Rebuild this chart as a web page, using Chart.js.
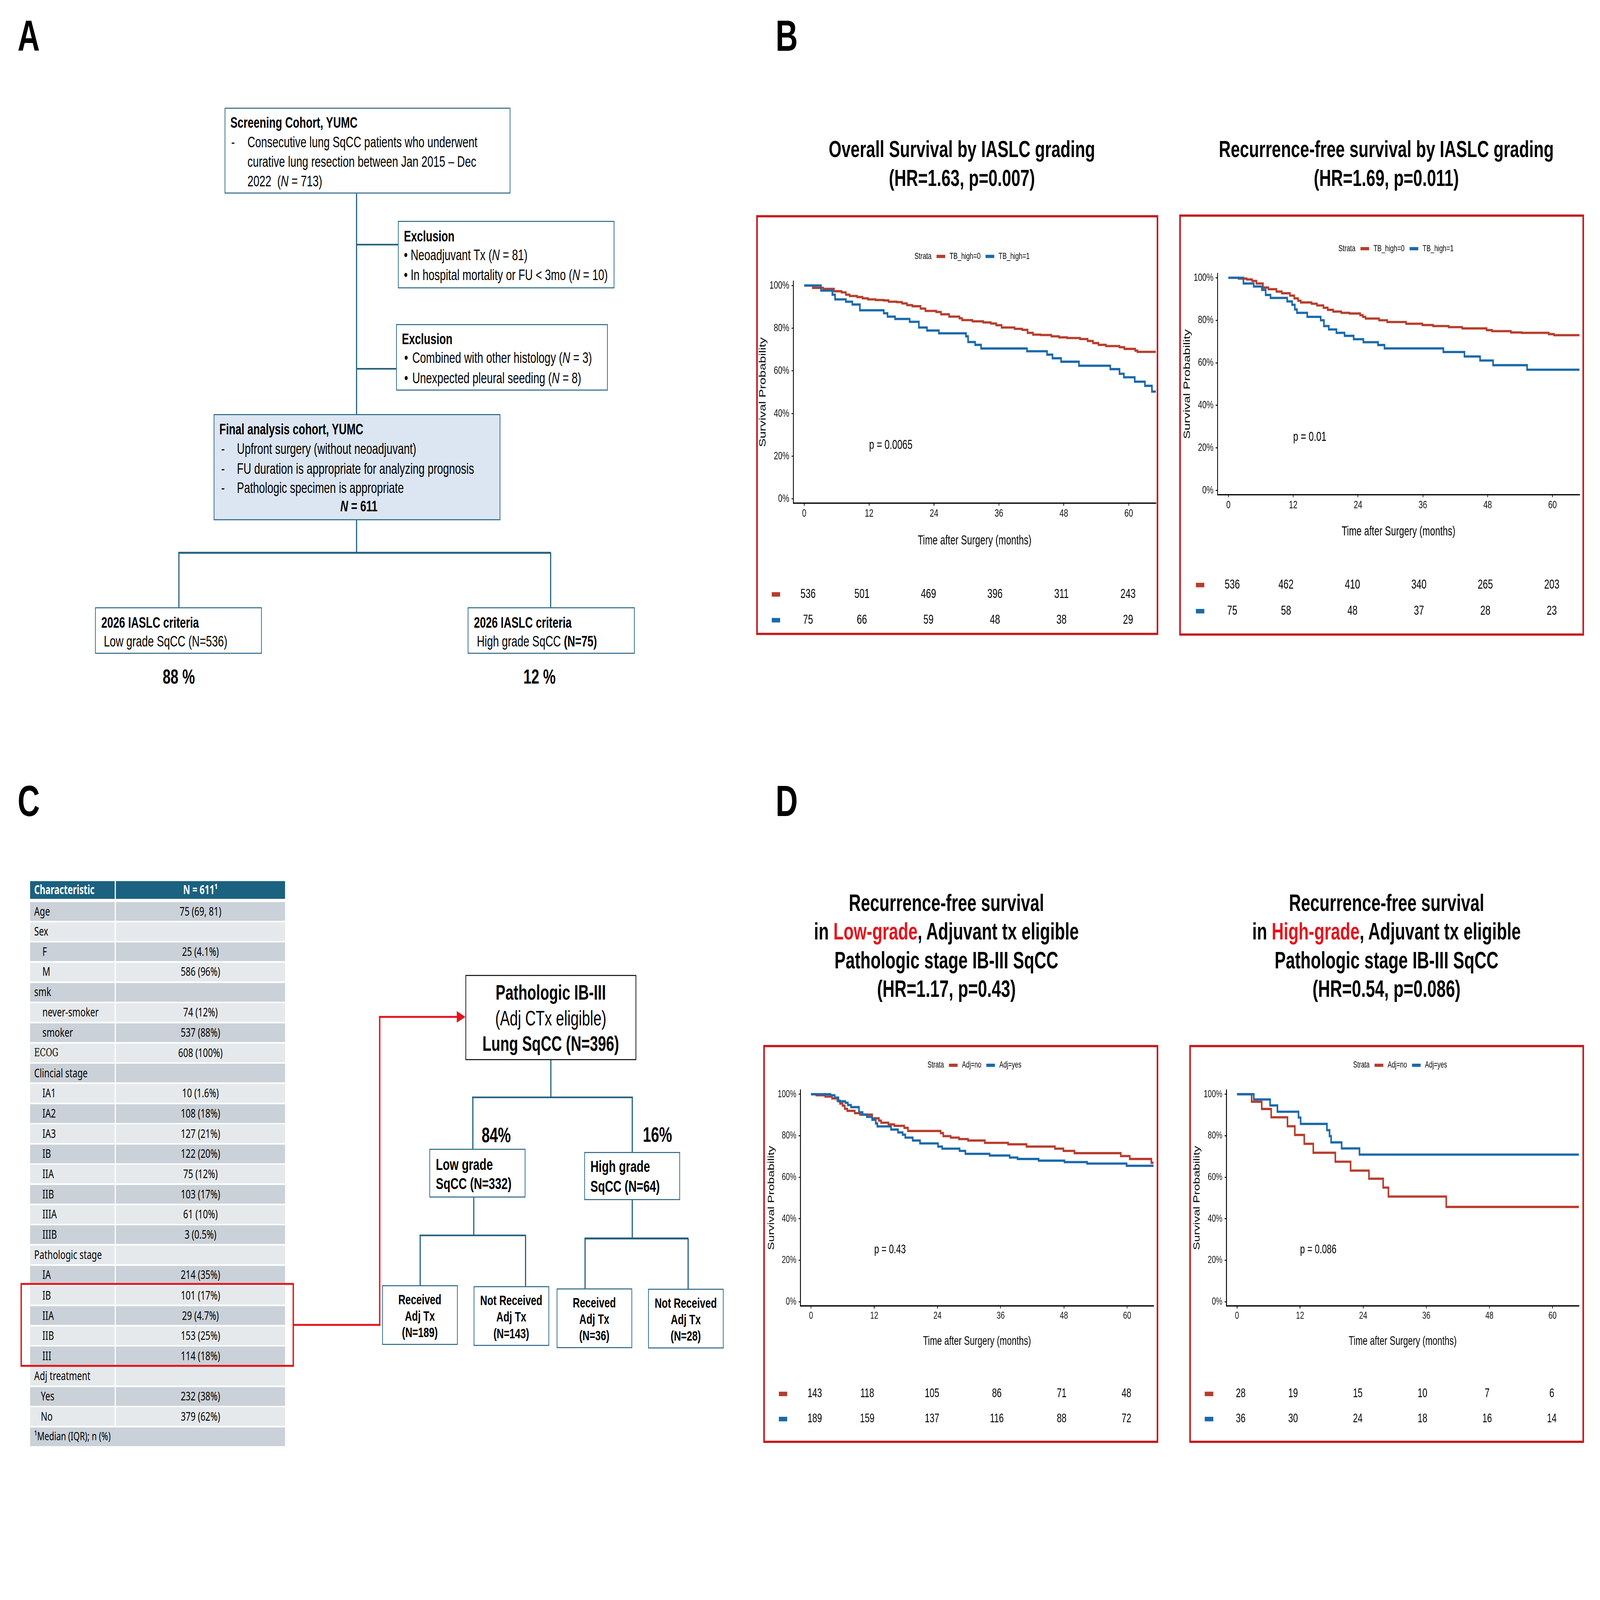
<!DOCTYPE html>
<html>
<head>
<meta charset="utf-8">
<title>IASLC grading in lung SqCC</title>
<script src="https://cdn.jsdelivr.net/npm/chart.js@4.4.1/dist/chart.umd.min.js"></script>
<style>
  html, body { margin: 0; padding: 0; background: #fff; overflow: hidden; }
  #page { position: relative; width: 7016px; height: 4961px; overflow: hidden; background: #fff;
          transform-origin: 0 0;
          font-family: Arial, "Liberation Sans", sans-serif; color: #000; }
  #page div { position: absolute; box-sizing: border-box; white-space: nowrap; }
  #page canvas { position: absolute; }
</style>
</head>
<body>
<div id="page"></div>
<script>
// ---- data ----
const timeTicks = [0, 12, 24, 36, 48, 60];
const survTicks = [0, 20, 40, 60, 80, 100];

// B left: overall survival
const osLowT = [0, 1.6, 3.5, 5.5, 6.9, 7.7, 8.4, 9.8, 10.8, 11.8, 13.2, 14.7, 15.6, 17.1, 18.1, 19.0, 20.0, 21.5, 22.4, 24.4, 25.3, 26.8, 28.7, 29.2, 31.1, 33.1, 34.5, 35.5, 36.5, 38.9, 40.3, 41.3, 42.3, 43.7, 45.7, 47.1, 48.6, 51.0, 52.4, 53.4, 54.4, 55.8, 58.3, 59.2, 61.2, 61.6, 65];
const osLowS = [100, 98.9, 98.4, 97.3, 96.8, 95.7, 95.1, 94.6, 94.0, 93.5, 93.2, 93.0, 92.4, 92.2, 91.6, 90.8, 90.3, 89.2, 88.1, 87.6, 86.5, 85.4, 84.6, 83.8, 83.2, 82.7, 82.2, 81.4, 80.3, 79.7, 79.2, 77.8, 77.0, 76.8, 76.2, 75.7, 75.4, 74.9, 74.0, 73.0, 72.2, 71.6, 71.1, 70.3, 69.5, 68.9, 68.6];
const osHighT = [0, 3.1, 5.2, 5.7, 7.7, 8.9, 10.3, 14.7, 15.4, 16.8, 19.5, 21.2, 22.7, 24.9, 29.9, 30.3, 31.6, 32.7, 41.2, 44.9, 45.9, 47.5, 50.8, 56.6, 58.3, 59.1, 61.1, 63.0, 64.3, 65];
const osHighS = [100, 97.6, 95.7, 93.5, 92.4, 91.1, 88.4, 87.0, 85.4, 84.3, 83.0, 80.3, 78.9, 77.6, 76.2, 73.5, 72.2, 70.5, 69.2, 67.6, 65.9, 64.3, 62.4, 60.8, 58.6, 57.0, 54.9, 53.0, 50.3, 50.3];
const osRiskLow = [536, 501, 469, 396, 311, 243];
const osRiskHigh = [75, 66, 59, 48, 38, 29];

// B right: recurrence-free survival
const rfsLowT = [0, 1.9, 3.4, 4.4, 5.2, 6.4, 7.4, 8.9, 9.9, 11.4, 12.2, 12.9, 13.4, 15.4, 16.4, 17.6, 18.4, 19.4, 20.9, 22.4, 24.4, 24.9, 25.4, 27.9, 29.4, 32.9, 35.9, 37.9, 40.8, 43.3, 47.8, 48.8, 52.3, 54.3, 59.3, 60.3, 65];
const rfsLowS = [100, 99.6, 99.2, 98.5, 97.3, 95.4, 94.6, 93.5, 92.7, 91.6, 90.3, 89.2, 88.4, 87.8, 87.0, 85.9, 84.9, 84.1, 83.5, 83.2, 82.4, 81.6, 80.8, 80.0, 79.2, 78.4, 77.8, 77.3, 76.8, 76.2, 75.4, 74.9, 74.3, 74.1, 73.5, 73.0, 72.7];
const rfsHighT = [0, 2.8, 4.7, 6.2, 6.9, 7.8, 10.9, 11.8, 12.3, 12.7, 14.6, 17.1, 17.7, 18.6, 20.0, 21.5, 23.2, 25.0, 27.7, 28.9, 39.8, 43.7, 46.6, 49.0, 55.3, 65];
const rfsHighS = [100, 97.3, 95.9, 94.3, 91.9, 90.5, 88.9, 87.3, 85.1, 83.5, 81.6, 80.0, 77.3, 75.7, 74.1, 72.7, 71.1, 69.7, 68.4, 66.8, 65.1, 63.0, 61.1, 58.9, 56.8, 56.8];
const rfsRiskLow = [536, 462, 410, 340, 265, 203];
const rfsRiskHigh = [75, 58, 48, 37, 28, 23];

// D left: low grade, adjuvant no / yes
const lowNoT = [0, 1.0, 2.7, 4.0, 5.0, 5.5, 6.0, 6.4, 6.9, 8.3, 9.3, 11.6, 12.9, 13.3, 14.7, 15.8, 17.7, 18.4, 24.6, 25.1, 26.5, 28.1, 29.8, 33.0, 37.4, 40.9, 46.3, 47.9, 50.0, 58.8, 60.5, 64.6, 65];
const lowNoS = [100, 99.5, 98.9, 98.0, 96.9, 95.5, 94.5, 93.0, 92.0, 90.9, 90.2, 88.4, 87.3, 86.3, 85.5, 84.8, 83.8, 82.3, 81.3, 79.8, 79.1, 78.4, 77.7, 76.6, 75.9, 74.8, 73.8, 72.7, 71.6, 70.2, 68.8, 67.0, 67.0];
const lowYesT = [0, 3.7, 4.5, 5.2, 6.5, 7.0, 7.6, 9.1, 9.8, 10.6, 11.6, 12.3, 12.6, 15.2, 16.5, 17.4, 17.9, 19.3, 20.7, 24.1, 24.9, 28.2, 29.3, 33.9, 37.7, 39.2, 43.2, 48.1, 52.4, 59.9, 65];
const lowYesS = [100, 99.5, 98.4, 96.6, 95.9, 94.8, 93.8, 91.3, 90.2, 89.1, 87.7, 85.9, 84.5, 83.0, 81.6, 80.5, 79.1, 77.7, 76.3, 74.8, 73.8, 72.7, 71.3, 70.5, 69.5, 68.8, 68.0, 67.3, 66.6, 65.5, 65.5];
const lowRiskNo = [143, 118, 105, 86, 71, 48];
const lowRiskYes = [189, 159, 137, 116, 88, 72];

// D right: high grade, adjuvant no / yes
const highNoT = [0, 2.8, 4.7, 6.5, 9.6, 11.0, 12.8, 14.5, 18.7, 21.6, 25.1, 27.8, 28.8, 39.8, 65];
const highNoS = [100, 96.4, 92.9, 88.9, 84.6, 80.4, 76.1, 71.8, 67.5, 63.2, 59.3, 55.0, 50.7, 45.7, 45.7];
const highYesT = [0, 3.2, 6.3, 7.7, 11.7, 12.1, 17.1, 17.6, 17.9, 19.9, 23.3, 65];
const highYesS = [100, 97.5, 94.6, 91.6, 88.8, 85.7, 82.7, 79.8, 76.8, 73.9, 70.9, 70.9];
const highRiskNo = [28, 19, 15, 10, 7, 6];
const highRiskYes = [36, 30, 24, 18, 16, 14];

// C: baseline table
const tblLabels = ['Age', 'Sex', 'F', 'M', 'smk', 'never-smoker', 'smoker', 'ECOG', 'Clincial stage',
  'IA1', 'IA2', 'IA3', 'IB', 'IIA', 'IIB', 'IIIA', 'IIIB', 'Pathologic stage',
  'IA', 'IB', 'IIA', 'IIB', 'III', 'Adj treatment', 'Yes', 'No'];
const tblValues = ['75 (69, 81)', '', '25 (4.1%)', '586 (96%)', '', '74 (12%)', '537 (88%)', '608 (100%)', '',
  '10 (1.6%)', '108 (18%)', '127 (21%)', '122 (20%)', '75 (12%)', '103 (17%)', '61 (10%)', '3 (0.5%)', '',
  '214 (35%)', '101 (17%)', '29 (4.7%)', '153 (25%)', '114 (18%)', '', '232 (38%)', '379 (62%)'];
const tblIndent = [0, 0, 1, 1, 0, 1, 1, 0, 0, 1, 1, 1, 1, 1, 1, 1, 1, 0, 1, 1, 1, 1, 1, 0, 2, 2];

// ---- helpers ----
const FONT = 'Arial, "Liberation Sans", sans-serif';
const TBL = '"Noto Sans", "Open Sans", sans-serif';
const FLOW = '#23607f';
const RED = '#e3141b';
const FRAME = '#c41a1f';
const KM_RED = '#b63d2c';
const KM_BLUE = '#1a69aa';
Chart.defaults.font.family = FONT;

const page = document.getElementById('page');

// map the 7016x4961 sheet onto whatever window we actually get
function fitPage() {
  const sx = window.innerWidth / 7016, sy = window.innerHeight / 4961;
  page.style.transform = (sx < 1 || sy < 1) ? `scale(${Math.min(sx, 1)}, ${Math.min(sy, 1)})` : 'none';
}
fitPage();
window.addEventListener('resize', fitPage);

function el(css, html) {
  const d = document.createElement('div');
  d.style.cssText = css;
  if (html) d.innerHTML = html;
  page.appendChild(d);
  return d;
}
function box(x, y, w, h, color, bw, fill) {
  el(`left:${x}px;top:${y}px;width:${w}px;height:${h}px;border:${bw}px solid ${color};background:${fill || 'transparent'}`);
}
function rect(x, y, w, h, fill) {
  el(`left:${x}px;top:${y}px;width:${w}px;height:${h}px;background:${fill}`);
}
function hline(x1, x2, y, w, c) { rect(x1, y - w / 2, x2 - x1, w, c || FLOW); }
function vline(x, y1, y2, w, c) { rect(x - w / 2, y1, w, y2 - y1, c || FLOW); }
function text(x, y, html, size, opt) {
  opt = opt || {};
  const lh = Math.round(size * 1.3);
  const tx = opt.align === 'center' ? 'translateX(-50%)' : opt.align === 'right' ? 'translateX(-100%)' : 'none';
  el(`left:${x}px;top:${y - lh / 2}px;line-height:${lh}px;font-size:${size}px;` +
     `font-weight:${opt.bold ? 'bold' : 'normal'};color:${opt.color || '#000'};transform:${tx};` +
     `font-family:${opt.font || 'inherit'}`, html);
}

// ---- panel letters ----
text(77, 112, 'A', 135, { bold: true });
text(3401, 112, 'B', 135, { bold: true });
text(77, 2484, 'C', 135, { bold: true });
text(3401, 2484, 'D', 135, { bold: true });

// ---- panel A: cohort flow ----
const FS = 47;
box(985, 334, 1253, 266, FLOW, 3);
text(1010, 379, '<b>Screening Cohort, YUMC</b>', FS);
text(1014, 440, '-', FS);
text(1085, 440, 'Consecutive lung SqCC patients who underwent', FS);
text(1085, 500, 'curative lung resection between Jan 2015 – Dec', FS);
text(1085, 561, '2022&nbsp; (<i>N</i> = 713)', FS);

box(1745, 685, 949, 209, FLOW, 3);
text(1771, 731, '<b>Exclusion</b>', FS);
text(1771, 790, '• Neoadjuvant Tx (<i>N</i> = 81)', FS);
text(1771, 852, '• In hospital mortality or FU &lt; 3mo (<i>N</i> = 10)', FS);

box(1737, 1005, 928, 206, FLOW, 3);
text(1762, 1050, '<b>Exclusion</b>', FS);
text(1773, 1108, '•', FS);
text(1808, 1108, 'Combined with other histology (<i>N</i> = 3)', FS);
text(1773, 1171, '•', FS);
text(1808, 1171, 'Unexpected pleural seeding (<i>N</i> = 8)', FS);

box(937, 1284, 1257, 329, FLOW, 3, '#dce6f2');
text(962, 1330, '<b>Final analysis cohort, YUMC</b>', FS);
[['Upfront surgery (without neoadjuvant)', 1390],
 ['FU duration is appropriate for analyzing prognosis', 1452],
 ['Pathologic specimen is appropriate', 1511]].forEach(([s, y]) => {
  text(970, y, '-', FS);
  text(1039, y, s, FS);
});
text(1574, 1569, '<b><i>N</i> = 611</b>', FS, { align: 'center' });

vline(1563, 600, 1284, 5);
hline(1563, 1745, 758, 5);
hline(1563, 1737, 1143, 5);
vline(1563, 1613, 1714, 5);
hline(782, 2416, 1714, 6);
vline(784, 1714, 1883, 5);
vline(2414, 1714, 1883, 5);

box(417, 1883, 731, 144, FLOW, 3);
text(444, 1929, '<b>2026 IASLC criteria</b>', FS);
text(455, 1988, 'Low grade SqCC (N=536)', FS);
box(2051, 1883, 732, 144, FLOW, 3);
text(2078, 1929, '<b>2026 IASLC criteria</b>', FS);
text(2091, 1988, 'High grade SqCC <b>(N=75)</b>', FS);
text(784, 2097, '<b>88 %</b>', 62, { align: 'center' });
text(2366, 2097, '<b>12 %</b>', 62, { align: 'center' });

// ---- panel C: table ----
rect(132, 2732, 371, 55, '#1b6180');
rect(508, 2732, 742, 55, '#1b6180');
text(150, 2758, '<b>Characteristic</b>', 38, { color: '#fff', font: TBL });
text(879, 2758, '<b>N = 611¹</b>', 38, { color: '#fff', font: TBL, align: 'center' });
const indentX = [150, 186, 179];
tblLabels.forEach((lab, i) => {
  const top = 2797 + i * 62.65;
  const bg = i % 2 ? '#e5e9ec' : '#cad1d8';
  rect(132, top, 371, 58, bg);
  rect(508, top, 742, 58, bg);
  const f = lab === 'ECOG' ? '"DejaVu Serif", "Liberation Serif", serif' : TBL;
  text(indentX[tblIndent[i]], top + 27, lab, lab === 'ECOG' ? 34 : 38, { font: f });
  if (tblValues[i]) text(879, top + 27, tblValues[i], 38, { font: TBL, align: 'center' });
});
{
  const top = 2797 + tblLabels.length * 62.65;
  rect(132, top, 1118, 58, tblLabels.length % 2 ? '#e5e9ec' : '#cad1d8');
  text(150, top + 27, '¹Median (IQR); n (%)', 36, { font: TBL });
}
box(90, 3978, 1199, 260, RED, 6);
hline(1286, 1668, 4108, 6, RED);
vline(1665, 3150, 4111, 6, RED);
hline(1662, 2006, 3153, 6, RED);
el(`left:2003px;top:3135px;width:0;height:0;border-top:18px solid transparent;border-bottom:18px solid transparent;border-left:38px solid ${RED}`);

// ---- panel C: adjuvant flow ----
box(2041, 3023, 749, 264, '#000', 3);
text(2415, 3078, '<b>Pathologic IB-III</b>', 64, { align: 'center' });
text(2415, 3157, '(Adj CTx eligible)', 64, { align: 'center' });
text(2415, 3236, '<b>Lung SqCC (N=396)</b>', 64, { align: 'center' });
vline(2415, 3287, 3402, 5);
hline(2070, 2775, 3402, 5);
vline(2073, 3402, 3562, 5);
vline(2772, 3402, 3572, 5);
text(2176, 3519, '<b>84%</b>', 64, { align: 'center' });
text(2883, 3518, '<b>16%</b>', 64, { align: 'center' });
box(1883, 3562, 421, 151, FLOW, 3);
text(1911, 3611, '<b>Low grade</b>', 50);
text(1911, 3670, '<b>SqCC (N=332)</b>', 50);
box(2562, 3572, 420, 149, FLOW, 3);
text(2589, 3617, '<b>High grade</b>', 50);
text(2589, 3678, '<b>SqCC (N=64)</b>', 50);
vline(2077, 3713, 3830, 5);
hline(1840, 2306, 3830, 5);
vline(1842, 3830, 3985, 5);
vline(2304, 3830, 3988, 5);
vline(2772, 3721, 3840, 5);
hline(2563, 3019, 3840, 6);
vline(2565, 3840, 3995, 5);
vline(3017, 3840, 3996, 5);
[[1676, 3985, 'Received', '(N=189)'], [2077, 3988, 'Not Received', '(N=143)'],
 [2441, 3995, 'Received', '(N=36)'], [2842, 3996, 'Not Received', '(N=28)']].forEach(([x, y, a, n]) => {
  box(x, y, 331, 185, FLOW, 3);
  const cx = x + 165;
  text(cx, y + 44, '<b>' + a + '</b>', 43, { align: 'center' });
  text(cx, y + 95, '<b>Adj Tx</b>', 43, { align: 'center' });
  text(cx, y + 146, '<b>' + n + '</b>', 43, { align: 'center' });
});

// ---- panel B / D titles ----
text(4218, 462, '<b>Overall Survival by IASLC grading</b>', 72, { align: 'center' });
text(4218, 551, '<b>(HR=1.63, p=0.007)</b>', 72, { align: 'center' });
text(6079, 462, '<b>Recurrence-free survival by IASLC grading</b>', 72, { align: 'center' });
text(6079, 551, '<b>(HR=1.69, p=0.011)</b>', 72, { align: 'center' });
[[4150, 'Low-grade', '(HR=1.17, p=0.43)'], [6080, 'High-grade', '(HR=0.54, p=0.086)']].forEach(([cx, g, hr]) => {
  text(cx, 2798, '<b>Recurrence-free survival</b>', 73, { align: 'center' });
  text(cx, 2887, `<b>in <span style="color:${RED}">${g}</span>, Adjuvant tx eligible</b>`, 73, { align: 'center' });
  text(cx, 2976, '<b>Pathologic stage IB-III SqCC</b>', 73, { align: 'center' });
  text(cx, 3065, '<b>' + hr + '</b>', 73, { align: 'center' });
});

// ---- KM plots ----
const kmExtras = {
  id: 'kmExtras',
  afterDraw(chart, args, o) {
    const { ctx, chartArea: a, scales: { x, y } } = chart;
    const mid = (a.left + a.right) / 2;
    ctx.save();
    ctx.textBaseline = 'middle';
    // legend
    ctx.font = `${Math.round(28 * o.fs)}px ${FONT}`;
    const ly = a.top - 77;
    const sw = 38, g1 = 22, g2 = 19;
    const widths = o.labels.map(l => ctx.measureText(l).width);
    const wS = ctx.measureText('Strata').width;
    let lx = mid - (wS + 2 * (g1 + sw + g2) + widths[0] + g1 + widths[1]) / 2;
    ctx.fillStyle = '#000';
    ctx.fillText('Strata', lx, ly);
    lx += wS + g1;
    o.colors.forEach((c, i) => {
      ctx.fillStyle = c;
      ctx.fillRect(lx, ly - 5, sw, 10);
      lx += sw + g2;
      ctx.fillStyle = '#000';
      ctx.fillText(o.labels[i], lx, ly);
      lx += widths[i] + g1;
    });
    // axis titles
    ctx.font = `${Math.round(40 * o.fs)}px ${FONT}`;
    ctx.textAlign = 'center';
    ctx.fillText('Time after Surgery (months)', mid, a.bottom + o.xTitleDy);
    ctx.save();
    ctx.translate(a.left - o.yTitleDx, (a.top + a.bottom) / 2);
    ctx.rotate(-Math.PI / 2);
    ctx.fillText('Survival Probability', 0, 0);
    ctx.restore();
    // p value
    ctx.textAlign = 'left';
    ctx.fillText(o.p, x.getPixelForValue(12), y.getPixelForValue(25));
    // number at risk: the table below has a slightly wider time axis than the plot
    const step = x.getPixelForValue(12) - x.getPixelForValue(0);
    const x60 = x.getPixelForValue(60) - 3;
    const riskX = timeTicks.map(t => x60 - (60 - t) / 12 * step * 1.025);
    riskX[0] = riskX[1] - 0.83 * step;
    ctx.textAlign = 'center';
    o.risk.forEach((row, r) => {
      const ry = a.bottom + o.riskDy[r];
      ctx.fillStyle = o.colors[r];
      ctx.fillRect(a.left - 95, ry - 7, 37, 14);
      ctx.fillStyle = '#000';
      row.forEach((n, i) => ctx.fillText(String(n), riskX[i], ry));
    });
    ctx.restore();
  }
};

function kmChart(cfg) {
  const bw = 7;
  const [bx1, by1, bx2, by2] = cfg.box;
  box(bx1, by1, bx2 - bx1, by2 - by1, FRAME, bw);
  const cx = bx1 + bw, cy = by1 + bw, cw = bx2 - bx1 - 2 * bw, ch = by2 - by1 - 2 * bw;
  const cv = document.createElement('canvas');
  cv.width = cw; cv.height = ch;
  cv.style.cssText = `left:${cx}px;top:${cy}px;width:${cw}px;height:${ch}px`;
  page.appendChild(cv);

  const [al, at, ar, ab] = cfg.area;
  const xH = 80;
  const tickFont = { size: Math.round(34 * cfg.fs) };
  const axisGrid = { display: true, drawOnChartArea: false, drawTicks: true, tickLength: 8, color: '#000', lineWidth: 3 };
  const colors = [KM_RED, KM_BLUE];

  new Chart(cv, {
    type: 'line',
    data: {
      datasets: cfg.series.map(([t, s], k) => ({
        label: cfg.labels[k],
        data: t.map((v, i) => ({ x: v, y: s[i] })),
        borderColor: colors[k],
        borderWidth: 7,
        stepped: true,
        pointRadius: 0,
        fill: false,
        order: 1 - k
      }))
    },
    options: {
      responsive: false,
      animation: false,
      devicePixelRatio: 1,
      layout: { padding: { left: 0, top: at - cy, right: cx + cw - ar, bottom: cy + ch - ab - xH } },
      plugins: {
        legend: { display: false },
        tooltip: { enabled: false },
        kmExtras: { labels: cfg.labels, colors: colors, risk: cfg.risk, riskDy: cfg.riskDy,
                    xTitleDy: cfg.xTitleDy, yTitleDx: cfg.yTitleDx, p: cfg.p, fs: cfg.fs }
      },
      scales: {
        x: {
          type: 'linear', min: -2, max: 65,
          afterBuildTicks: sc => { sc.ticks = timeTicks.map(v => ({ value: v })); },
          afterFit: sc => { sc.height = xH; },
          grid: axisGrid,
          border: { display: true, color: '#000', width: 4 },
          ticks: { font: tickFont, color: '#111', padding: 4, maxRotation: 0, autoSkip: false }
        },
        y: {
          type: 'linear', min: -2, max: 102,
          afterBuildTicks: sc => { sc.ticks = survTicks.map(v => ({ value: v })); },
          afterFit: sc => { sc.width = al - cx; },
          grid: axisGrid,
          border: { display: true, color: '#000', width: 4 },
          ticks: { font: tickFont, color: '#111', padding: 10, autoSkip: false, callback: v => v + '%' }
        }
      }
    },
    plugins: [kmExtras]
  });
}

kmChart({ box: [3316, 667, 5079, 1969], area: [3479, 872, 5068, 1560], fs: 1,
  series: [[osLowT, osLowS], [osHighT, osHighS]], labels: ['TB_high=0', 'TB_high=1'],
  risk: [osRiskLow, osRiskHigh], riskDy: [283, 363], xTitleDy: 117, yTitleDx: 133, p: 'p = 0.0065' });
kmChart({ box: [5171, 665, 6946, 1971], area: [5339, 848, 6926, 1534], fs: 1,
  series: [[rfsLowT, rfsLowS], [rfsHighT, rfsHighS]], labels: ['TB_high=0', 'TB_high=1'],
  risk: [rfsRiskLow, rfsRiskHigh], riskDy: [280, 361], xTitleDy: 115, yTitleDx: 132, p: 'p = 0.01' });
kmChart({ box: [3347, 3240, 5079, 4474], area: [3510, 3380, 5058, 4049], fs: 0.95,
  series: [[lowNoT, lowNoS], [lowYesT, lowYesS]], labels: ['Adj=no', 'Adj=yes'],
  risk: [lowRiskNo, lowRiskYes], riskDy: [273, 351], xTitleDy: 111, yTitleDx: 126, p: 'p = 0.43' });
kmChart({ box: [5215, 3240, 6946, 4474], area: [5378, 3380, 6923, 4049], fs: 0.95,
  series: [[highNoT, highNoS], [highYesT, highYesS]], labels: ['Adj=no', 'Adj=yes'],
  risk: [highRiskNo, highRiskYes], riskDy: [273, 351], xTitleDy: 111, yTitleDx: 128, p: 'p = 0.086' });
</script>
</body>
</html>
